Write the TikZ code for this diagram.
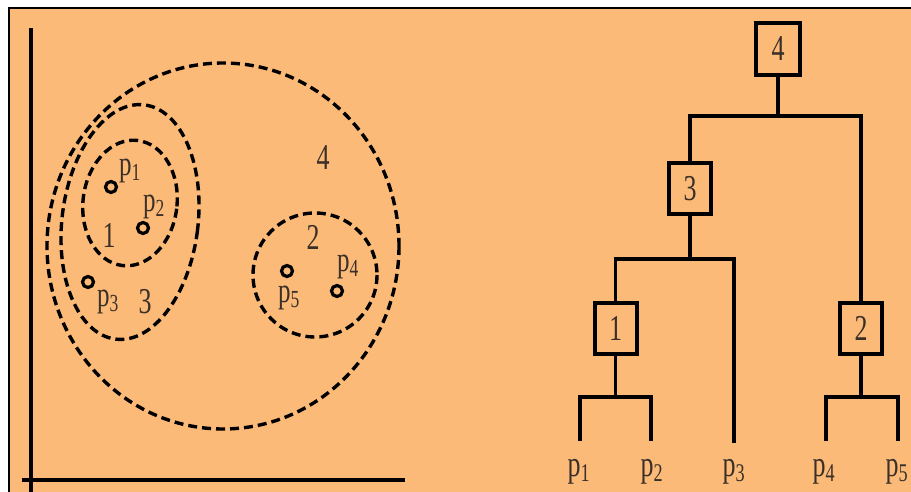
\documentclass[tikz,border=0pt]{standalone}
\usepackage{fontspec}
\setmainfont{Liberation Serif}
\usepackage{graphicx}
\definecolor{bgorange}{RGB}{252,186,120}
\definecolor{txtgray}{RGB}{58,48,40}
\newcommand{\tall}[1]{\scalebox{1}[1.4]{#1}}
\newcommand{\pnt}[1]{\tall{p\textsubscript{#1}}}

\begin{document}
\begin{tikzpicture}[x=1pt,y=-1pt,
  lbl/.style={text=txtgray,font=\fontsize{25}{25}\selectfont,inner sep=0pt},
  dot/.style={circle,draw,line width=3.2pt,minimum size=11pt,inner sep=0pt},
  clus/.style={draw,line width=3.4pt,dash pattern=on 9pt off 5pt},
  nbox/.style={draw,line width=4pt,minimum width=42pt,minimum height=51pt,inner sep=0pt,
    text=txtgray,font=\fontsize{26}{26}\selectfont},
  br/.style={line width=3.8pt}]
  \useasboundingbox (0,0) rectangle (911,492);
  \fill[bgorange] (9,8) rectangle (911,492);
  \draw[line width=2pt] (9,492) -- (9,8) -- (911,8);
  % axes
  \draw[line width=3.2pt] (31,28) -- (31,492);
  \draw[line width=3.2pt] (22,480) -- (405,480);
  % clusters
  \draw[clus] (223,246) ellipse [x radius=176, y radius=183];
  \draw[clus,rotate around={-7:(130,222)}] (130,222) ellipse [x radius=68, y radius=118];
  \draw[clus,rotate around={-7:(130,203)}] (130,203) ellipse [x radius=47, y radius=63];
  \draw[clus] (315,275) circle [radius=62];
  \node[dot] (p1) at (111,187) {};
  \node[dot] (p2) at (143,228) {};
  \node[dot] (p3) at (88,282) {};
  \node[dot] (p4) at (337,291) {};
  \node[dot] (p5) at (287,271) {};
  \node[lbl] (lp1) at (130,171) {\pnt{1}};
  \node[lbl] (lp2) at (154,207) {\pnt{2}};
  \node[lbl] (lp3) at (108,302) {\pnt{3}};
  \node[lbl] (lp4) at (348,267) {\pnt{4}};
  \node[lbl] (lp5) at (289,298) {\pnt{5}};
  \node[lbl,font=\fontsize{26}{26}\selectfont] (n1) at (109,235) {\tall{1}};
  \node[lbl,font=\fontsize{26}{26}\selectfont] (n2) at (313,237) {\tall{2}};
  \node[lbl,font=\fontsize{26}{26}\selectfont] (n3) at (145,302) {\tall{3}};
  \node[lbl,font=\fontsize{26}{26}\selectfont] (n4) at (323,158) {\tall{4}};
  % dendrogram
  \node[nbox,line width=4.5pt,minimum width=44pt,minimum height=52pt] (c4) at (778,49) {\tall{4}};
  \node[nbox] (c3) at (690,188.5) {\tall{3}};
  \node[nbox] (c1) at (615.5,328) {\tall{1}};
  \node[nbox] (c2) at (861,328) {\tall{2}};
  \coordinate (j4) at (778,116);
  \coordinate (j3) at (690,259);
  \coordinate (j1) at (615.5,397);
  \coordinate (j2) at (861,397);
  \coordinate (e1) at (580,441);
  \coordinate (e2) at (651,441);
  \coordinate (e3) at (734,443);
  \coordinate (e4) at (826,441);
  \coordinate (e5) at (898,441);
  \draw[br] (c4) -- (j4);
  \draw[br,line width=4.4pt] (c3) |- (j4) -| (c2);
  \draw[br] (c3) -- (j3);
  \draw[br] (c1) |- (j3) -| (e3);
  \draw[br] (c1) -- (j1);
  \draw[br] (e1) |- (j1) -| (e2);
  \draw[br] (c2) -- (j2);
  \draw[br] (e4) |- (j2) -| (e5);
  \node[lbl,font=\fontsize{26}{26}\selectfont] (l1) at (579,472) {\pnt{1}};
  \node[lbl,font=\fontsize{26}{26}\selectfont] (l2) at (652,472) {\pnt{2}};
  \node[lbl,font=\fontsize{26}{26}\selectfont] (l3) at (734,472) {\pnt{3}};
  \node[lbl,font=\fontsize{26}{26}\selectfont] (l4) at (824,472) {\pnt{4}};
  \node[lbl,font=\fontsize{26}{26}\selectfont] (l5) at (897,472) {\pnt{5}};
\end{tikzpicture}
\end{document}
